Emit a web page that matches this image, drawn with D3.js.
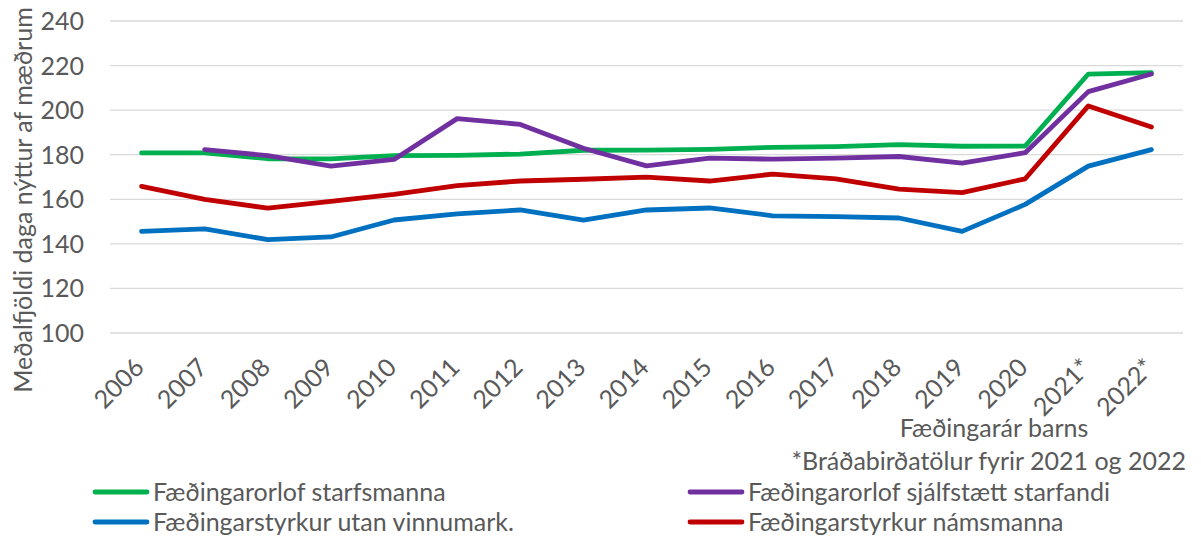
<!DOCTYPE html>
<html>
<head>
<meta charset="utf-8">
<style>
  body { margin: 0; background: #fff; }
  text { font-family: Lato, "Liberation Sans", sans-serif; fill: #595959; }
</style>
</head>
<body>
<svg id="chart" width="1201" height="537"></svg>
<script src="https://d3js.org/d3.v7.min.js"></script>
<script>
// data
var years = ["2006","2007","2008","2009","2010","2011","2012","2013","2014","2015","2016","2017","2018","2019","2020","2021*","2022*"];
var starfsmanna = [180.8,180.8,178.2,178.1,179.6,179.7,180.3,182.0,182.1,182.4,183.3,183.6,184.5,183.8,183.9,216.2,216.8];
var sjalfstaett = [null,182.3,179.6,174.9,177.9,196.2,193.6,182.9,175.0,178.5,178.0,178.5,179.2,176.2,180.9,208.3,216.2];
var utanVinnumark = [145.6,146.7,141.9,143.1,150.7,153.5,155.2,150.7,155.2,156.1,152.6,152.2,151.6,145.6,157.7,174.9,182.3];
var namsmanna = [165.8,160.0,156.0,159.1,162.2,166.1,168.2,169.0,169.9,168.2,171.3,169.2,164.6,163.0,169.2,201.9,192.4];
var yTicks = [100,120,140,160,180,200,220,240];

var series = [
  {name: "Fæðingarorlof starfsmanna", values: starfsmanna, color: "#00b050"},
  {name: "Fæðingarstyrkur utan vinnumark.", values: utanVinnumark, color: "#0070c0"},
  {name: "Fæðingarstyrkur námsmanna", values: namsmanna, color: "#c00000"},
  {name: "Fæðingarorlof sjálfstætt starfandi", values: sjalfstaett, color: "#7030a0"}
];

var svg = d3.select("#chart");
var plotLeft = 110, plotRight = 1183, plotTop = 21, plotBottom = 333;
var fs = "25px";

var x = d3.scaleBand().domain(years).range([plotLeft, plotRight]);
var y = d3.scaleLinear().domain([100, 240]).range([plotBottom, plotTop]);

// gridlines
svg.append("g")
  .selectAll("line")
  .data(yTicks)
  .join("line")
  .attr("x1", plotLeft).attr("x2", plotRight)
  .attr("y1", d => y(d)).attr("y2", d => y(d))
  .attr("stroke", "#d9d9d9")
  .attr("stroke-width", 1.3);

// y tick labels
svg.append("g")
  .selectAll("text")
  .data(yTicks)
  .join("text")
  .attr("x", 84)
  .attr("y", d => y(d))
  .attr("dy", "0.36em")
  .attr("text-anchor", "end")
  .style("font-size", fs)
  .text(d => d);

// x tick labels
svg.append("g")
  .selectAll("text")
  .data(years)
  .join("text")
  .attr("text-anchor", "end")
  .attr("transform", d => "translate(" + (x(d) + x.bandwidth() / 2 + 4) + ",369) rotate(-45)")
  .style("font-size", fs)
  .text(d => d);

// y axis title
svg.append("text")
  .attr("transform", "translate(32,200) rotate(-90)")
  .attr("text-anchor", "middle")
  .style("font-size", fs)
  .text("Meðalfjöldi daga nýttur af mæðrum");

// x axis title and note
svg.append("text")
  .attr("x", 994).attr("y", 437)
  .attr("text-anchor", "middle")
  .style("font-size", fs)
  .text("Fæðingarár barns");

svg.append("text")
  .attr("x", 1186).attr("y", 470)
  .attr("text-anchor", "end")
  .style("font-size", fs)
  .text("*Bráðabirðatölur fyrir 2021 og 2022");

// lines
var line = d3.line()
  .defined(d => d != null)
  .x((d, i) => x(years[i]) + x.bandwidth() / 2)
  .y(d => y(d));

var drawOrder = [series[0], series[3], series[2], series[1]];
svg.append("g")
  .selectAll("path")
  .data(drawOrder)
  .join("path")
  .attr("fill", "none")
  .attr("stroke", d => d.color)
  .attr("stroke-width", 4.8)
  .attr("stroke-linejoin", "round")
  .attr("stroke-linecap", "round")
  .attr("d", d => line(d.values));

// legend
var legendPos = [[95, 492], [95, 522], [690, 522], [690, 492]];
var legend = svg.append("g")
  .selectAll("g")
  .data(series)
  .join("g")
  .attr("transform", (d, i) => "translate(" + legendPos[i][0] + "," + legendPos[i][1] + ")");

legend.append("line")
  .attr("x1", 0).attr("x2", 52)
  .attr("stroke", d => d.color)
  .attr("stroke-width", 4.8)
  .attr("stroke-linecap", "round");

legend.append("text")
  .attr("x", 58)
  .attr("dy", "0.36em")
  .style("font-size", fs)
  .text(d => d.name);
</script>
</body>
</html>
